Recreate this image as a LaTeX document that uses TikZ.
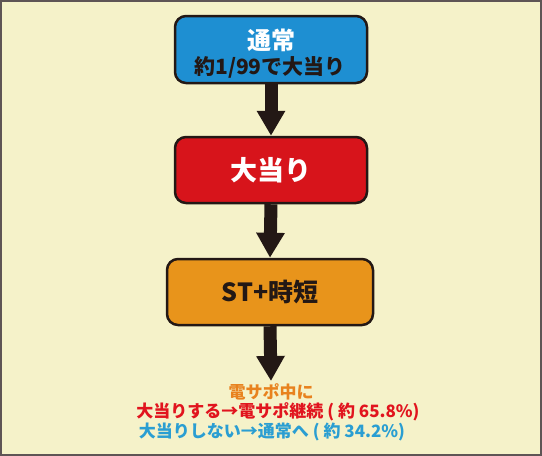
\documentclass[tikz,border=0pt]{standalone}
\usepackage{fontspec}
\setmainfont{Noto Sans CJK JP}
\usetikzlibrary{arrows.meta}
\definecolor{bg}{HTML}{F5F2C9}
\definecolor{frame}{HTML}{5E5555}
\definecolor{bluebox}{HTML}{1E8FD2}
\definecolor{redbox}{HTML}{D7141B}
\definecolor{orangebox}{HTML}{E8941B}
\definecolor{ink}{HTML}{231815}
\definecolor{txtorange}{HTML}{E8821E}
\definecolor{txtred}{HTML}{E1141E}
\definecolor{txtblue}{HTML}{2A9ED2}
\tikzset{
  flowbox/.style={draw=ink, line width=2.5pt, rounded corners=11pt, inner sep=0pt},
  flowarrow/.style={draw=ink, line width=13pt, -{Triangle[width=27pt,length=25pt]}},
}
\begin{document}
\begin{tikzpicture}[x=1pt,y=-1pt]
\fill[bg] (0,0) rectangle (542,456);
\draw[frame, line width=2pt] (1,1) rectangle (541,455);
\useasboundingbox (0,0) rectangle (542,456);

\node[flowbox, fill=bluebox, minimum width=192pt, minimum height=67pt] (normal) at (271,49.5) {};
\node[font=\bfseries\fontsize{24}{24}\selectfont, text=white] (normalT) at (271,40) {通常};
\node[font=\bfseries\fontsize{21}{21}\selectfont, text=ink] (normalS) at (270,67) {約1/99で大当り};

\node[flowbox, fill=redbox, minimum width=192pt, minimum height=66pt, font=\bfseries\fontsize{27}{27}\selectfont, text=white] (hit) at (271,170) {大当り};

\node[flowbox, fill=orangebox, minimum width=206pt, minimum height=66pt, font=\bfseries\fontsize{25}{25}\selectfont, text=ink] (st) at (270,292) {ST+時短};

\coordinate (tipend) at (271,381);

\draw[flowarrow] (normal.south) -- (hit.north);
\draw[flowarrow] (hit.south) -- (st.north);
\draw[flowarrow] (st.south) -- (tipend);

\node[font=\bfseries\fontsize{17}{17}\selectfont, text=txtorange] (lead) at (271,392) {電サポ中に};
\node[font=\bfseries\fontsize{17}{17}\selectfont, text=txtred] (yes) at (278,412) {大当りする→電サポ継続 ( 約 65.8\%)};
\node[font=\bfseries\fontsize{17}{17}\selectfont, text=txtblue] (no) at (272,432) {大当りしない→通常へ ( 約 34.2\%)};
\end{tikzpicture}
\end{document}
